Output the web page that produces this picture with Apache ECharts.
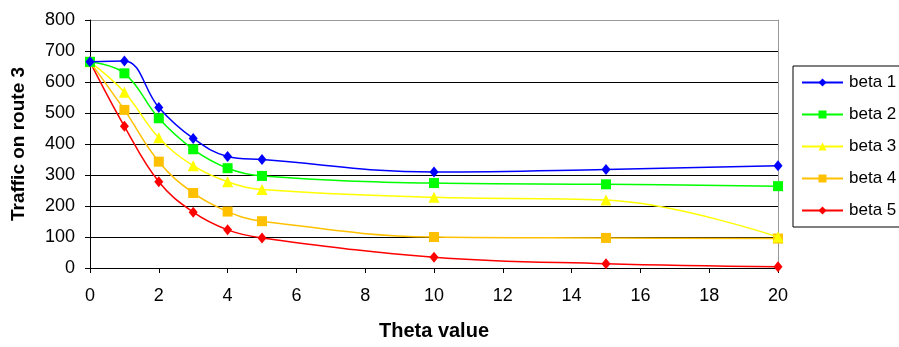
<!DOCTYPE html>
<html><head><meta charset="utf-8">
<script src="https://cdn.jsdelivr.net/npm/echarts@6/dist/echarts.min.js"></script>
<style>html,body{margin:0;padding:0;background:#fff}#c{width:899px;height:347px}</style>
</head><body><div id="c"></div>
<script>
const theta = [0, 1, 2, 3, 4, 5, 10, 15, 20];
const beta1 = [665, 668, 518, 418, 360, 350, 310, 318, 330];
const beta2 = [665, 628, 483, 383, 322, 297, 274, 270, 264];
const beta3 = [665, 567, 420, 330, 278, 253, 228, 219, 100];
const beta4 = [665, 510, 343, 242, 182, 151, 100, 97, 95];
const beta5 = [665, 457, 278, 180, 123, 97, 35, 14, 4];
const seriesNames = ['beta 1', 'beta 2', 'beta 3', 'beta 4', 'beta 5'];
const seriesData = [beta1, beta2, beta3, beta4, beta5];
const colors = ['#0000FF', '#00FF00', '#FFFF00', '#FFC000', '#FF0000'];
const symbols = ['diamond', 'rect', 'triangle', 'rect', 'diamond'];
const symbolSizes = [[9, 11], 10, 11, 10, [9, 11]];

const chart = echarts.init(document.getElementById('c'), null, {renderer: 'canvas'});
const FONT = 'Arial, "Liberation Sans", sans-serif';
const series = seriesNames.map((n, i) => ({
  name: n, type: 'line', smooth: 0.4,
  data: theta.map((t, j) => [t, seriesData[i][j]]),
  symbol: symbols[i], symbolSize: symbolSizes[i], showAllSymbol: true,
  itemStyle: {color: colors[i]},
  lineStyle: {color: colors[i], width: 1.5},
  emphasis: {disabled: true}, z: 10 - i
}));
const gridColors = ['#000','#000','#000','#000','#000','#000','#000','#000','#999'];
chart.setOption({
  animation: false,
  textStyle: {fontFamily: FONT},
  grid: {left: 90, right: 121, top: 20, bottom: 79},
  legend: {
    orient: 'vertical', left: 793, top: 66,
    data: seriesNames, itemWidth: 41, itemHeight: 10, itemGap: 15,
    padding: [8, 40, 8, 8],
    borderColor: '#000', borderWidth: 1,
    textStyle: {fontSize: 17, color: '#000', fontFamily: FONT, padding: [0, 0, 0, 1]},
    selectedMode: false
  },
  xAxis: {
    type: 'value', min: 0, max: 20, interval: 2,
    name: 'Theta value', nameLocation: 'middle', nameGap: 53,
    nameTextStyle: {fontSize: 20, fontWeight: 'bold', color: '#000', fontFamily: FONT},
    axisLine: {show: true, onZero: false, lineStyle: {color: '#000', width: 1}},
    axisTick: {show: true, inside: false, length: 5, lineStyle: {color: '#000'}},
    axisLabel: {fontSize: 18, color: '#000', margin: 19},
    splitLine: {show: false}
  },
  yAxis: [{
    type: 'value', min: 0, max: 800, interval: 100,
    name: 'Traffic on route 3', nameLocation: 'middle', nameGap: 62, nameRotate: 90,
    nameTextStyle: {fontSize: 19, fontWeight: 'bold', color: '#000', fontFamily: FONT},
    axisLine: {show: true, lineStyle: {color: '#000', width: 1}},
    axisTick: {show: true, inside: false, length: 5, lineStyle: {color: '#000'}},
    axisLabel: {fontSize: 18, color: '#000', margin: 15},
    splitLine: {show: true, lineStyle: {color: gridColors, width: 1}}
  }, {
    type: 'value', min: 0, max: 800, interval: 100, position: 'right',
    axisLine: {show: true, lineStyle: {color: '#999', width: 1}},
    axisTick: {show: false}, axisLabel: {show: false}, splitLine: {show: false}
  }],
  series: series
});
</script></body></html>
